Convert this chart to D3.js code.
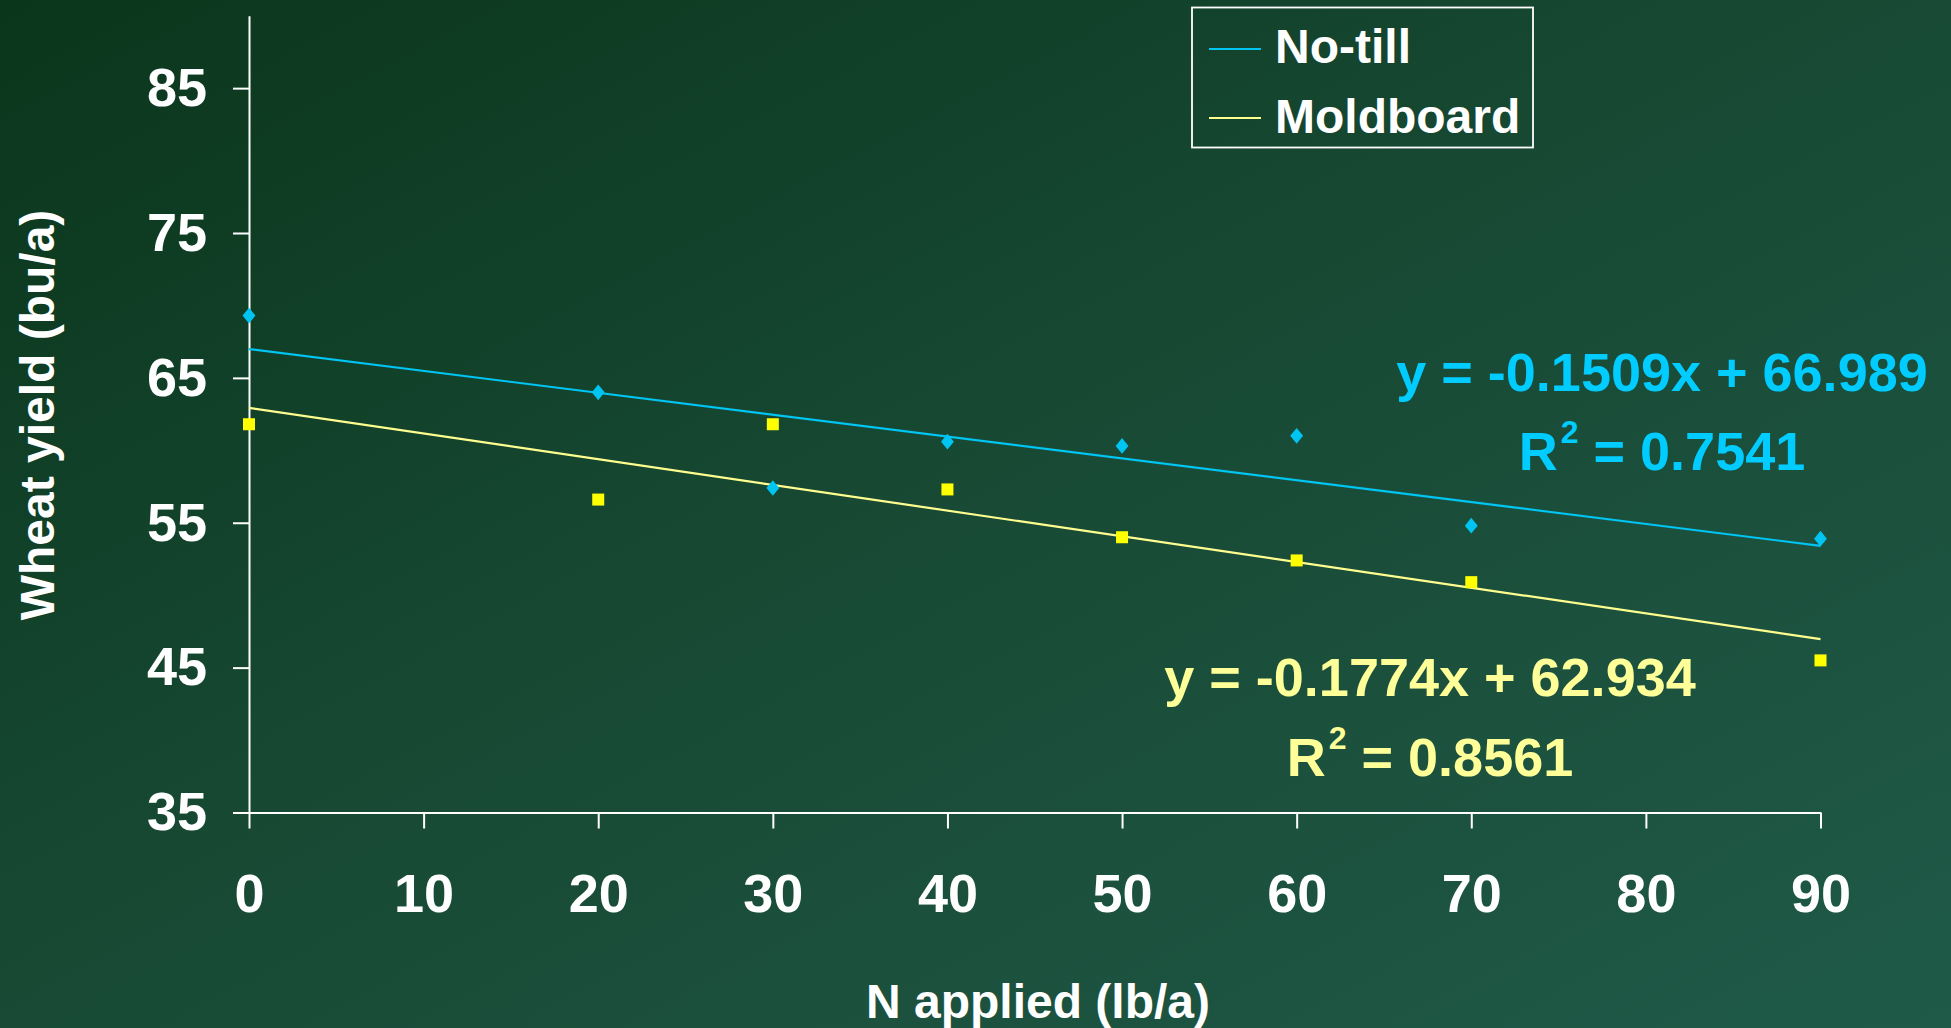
<!DOCTYPE html>
<html><head><meta charset="utf-8">
<script src="https://cdn.jsdelivr.net/npm/d3@7"></script>
<style>
html,body{margin:0;padding:0;overflow:hidden;background:#123f2a;}
text{font-family:"Liberation Sans",Arial,sans-serif;font-weight:bold;}
</style></head>
<body>
<svg id="chart" width="1951" height="1028"></svg>
<script>
const nApplied = [0, 20, 30, 40, 50, 60, 70, 90];
const noTill = [69.3, 64.0, 57.4, 60.6, 60.3, 61.0, 54.8, 53.9];
const moldboard = [61.8, 56.6, 61.8, 57.3, 54.0, 52.4, 50.9, 45.5];
const seriesNames = ["No-till", "Moldboard"];
const trendSlopes = [-0.1509, -0.1774];
const trendIntercepts = [66.989, 62.934];
const rSquared = ["0.7541", "0.8561"];
const xTicks = [0, 10, 20, 30, 40, 50, 60, 70, 80, 90];
const yTicks = [35, 45, 55, 65, 75, 85];
const xDomain = [0, 90];
const yDomain = [35, 90];

const svg = d3.select("#chart");
const W = 1951, H = 1028;

const defs = svg.append("defs");
const grad = defs.append("linearGradient").attr("id", "bg")
  .attr("x1", "0%").attr("y1", "0%").attr("x2", "100%").attr("y2", "100%");
grad.append("stop").attr("offset", "0%").attr("stop-color", "#0a361b");
grad.append("stop").attr("offset", "50%").attr("stop-color", "#184a35");
grad.append("stop").attr("offset", "100%").attr("stop-color", "#1f5a48");
svg.append("rect").attr("width", W).attr("height", H).attr("fill", "url(#bg)");

const x = d3.scaleLinear().domain(xDomain).range([249, 1820.5]);
const y = d3.scaleLinear().domain(yDomain).range([812.5, 15.7]);

const cyan = "#00c4f2", cyanText = "#00ccff";
const yellowMark = "#ffff00", yellowLine = "#ffff90", yellowText = "#ffff99";

// axes
const yAxis = svg.append("g").attr("transform", `translate(${x(0)},0)`)
  .call(d3.axisLeft(y).tickValues(yTicks).tickSizeInner(16).tickSizeOuter(0).tickPadding(26).tickFormat(d3.format("d")));
const xAxis = svg.append("g").attr("transform", `translate(0,${y(35)})`)
  .call(d3.axisBottom(x).tickValues(xTicks).tickSizeInner(16).tickSizeOuter(0).tickPadding(45).tickFormat(d3.format("d")));
[yAxis, xAxis].forEach(g => {
  g.select(".domain").attr("stroke", "#ffffff").attr("stroke-width", 2);
  g.selectAll(".tick line").attr("stroke", "#ffffff").attr("stroke-width", 2);
  g.selectAll(".tick text").attr("fill", "#ffffff").attr("font-size", 54)
    .attr("font-family", "Liberation Sans, Arial, sans-serif").attr("font-weight", "bold");
});

// axis titles
svg.append("text").attr("x", 1038).attr("y", 1018).attr("text-anchor", "middle")
  .attr("font-size", 48).attr("fill", "#ffffff").text("N applied (lb/a)");
svg.append("text").attr("transform", "translate(54,415) rotate(-90)").attr("text-anchor", "middle")
  .attr("font-size", 48).attr("fill", "#ffffff").text("Wheat yield (bu/a)");

// trend lines
const lineColors = [cyan, yellowLine];
trendSlopes.forEach((m, i) => {
  const pts = xDomain.map(v => [x(v), y(trendIntercepts[i] + m * v)]);
  svg.append("path").attr("d", d3.line()(pts)).attr("stroke", lineColors[i])
    .attr("stroke-width", 2.2).attr("fill", "none");
});

// markers
const diamond = d3.symbol().type(d3.symbolDiamond2).size(130);
svg.append("g").selectAll("path").data(nApplied.map((n, i) => [n, noTill[i]])).join("path")
  .attr("d", diamond).attr("transform", d => `translate(${x(d[0])},${y(d[1])}) scale(0.9,1.1)`)
  .attr("fill", cyan);
svg.append("g").selectAll("rect").data(nApplied.map((n, i) => [n, moldboard[i]])).join("rect")
  .attr("x", d => x(d[0]) - 6).attr("y", d => y(d[1]) - 6).attr("width", 12).attr("height", 12)
  .attr("fill", yellowMark);

// equations
const eqColors = [cyanText, yellowText];
const eqPos = [[1662, 391, 470], [1430, 696, 776]];
trendSlopes.forEach((m, i) => {
  const [cx, y1, y2] = eqPos[i];
  svg.append("text").attr("x", cx).attr("y", y1).attr("text-anchor", "middle")
    .attr("font-size", 54).attr("fill", eqColors[i])
    .text(`y = ${m}x + ${trendIntercepts[i]}`);
  const t = svg.append("text").attr("x", cx).attr("y", y2).attr("text-anchor", "middle")
    .attr("font-size", 54).attr("fill", eqColors[i]);
  t.append("tspan").text("R");
  t.append("tspan").attr("font-size", 32).attr("dy", -27).attr("dx", 3).text("2");
  t.append("tspan").attr("dy", 27).text(` = ${rSquared[i]}`);
});

// legend
const lg = svg.append("g");
lg.append("rect").attr("x", 1192).attr("y", 7.5).attr("width", 341).attr("height", 140)
  .attr("fill", "none").attr("stroke", "#ffffff").attr("stroke-width", 1.8);
const legColors = [cyan, yellowLine];
seriesNames.forEach((s, i) => {
  const ly = [49, 118][i];
  lg.append("line").attr("x1", 1209).attr("x2", 1261).attr("y1", ly).attr("y2", ly)
    .attr("stroke", legColors[i]).attr("stroke-width", 2.2);
  lg.append("text").attr("x", 1275).attr("y", [63, 133][i]).attr("font-size", 48)
    .attr("fill", "#ffffff").text(s);
});
</script>
</body></html>
